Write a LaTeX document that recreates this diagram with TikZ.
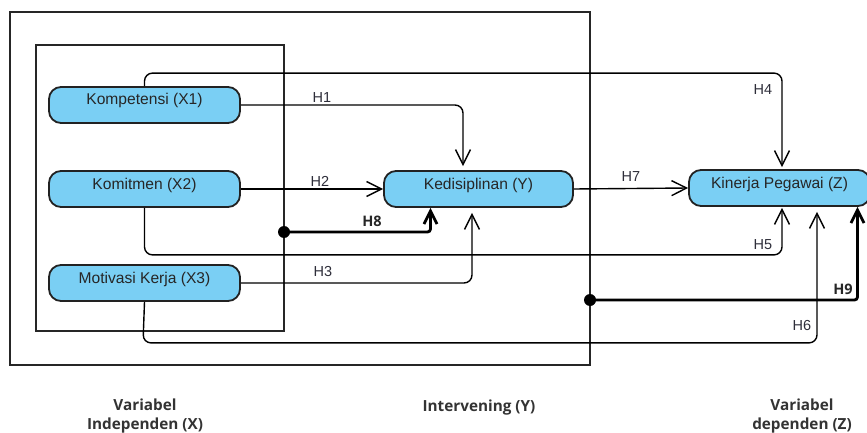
\documentclass[tikz,border=0pt]{standalone}
\usepackage{fontspec}
\setmainfont{Liberation Sans}
\newfontfamily\osb{Open Sans}
\usetikzlibrary{arrows.meta,calc}
\definecolor{nodeblue}{HTML}{7ACFF4}
\definecolor{edgegray}{HTML}{222222}
\definecolor{labgray}{HTML}{2E2E3A}
\begin{document}
\begin{tikzpicture}[x=1pt,y=-1pt,
  var/.style={draw=edgegray,line width=1.8pt,fill=nodeblue,rounded corners=12pt,
    minimum width=191pt,minimum height=36pt,inner sep=0pt,
    text height=11pt,text depth=11pt,font=\fontsize{15.6}{18}\selectfont,text=black!85},
  frame/.style={draw=black!85,line width=1.5pt},
  conn/.style={draw=black,line width=1.4pt,rounded corners=8pt,
    -{Straight Barb[length=15pt,width=15pt,line width=1.4pt]}},
  thick conn/.style={draw=black,line width=2.8pt,rounded corners=3pt,
    -{Straight Barb[length=13pt,width=13pt,line width=2.8pt]}},
  hlab/.style={font=\fontsize{14.5}{16}\selectfont,text=labgray,inner sep=0pt},
  hblab/.style={font=\osb\bfseries\fontsize{14.5}{16}\selectfont,text=black!85,inner sep=0pt},
  foot/.style={font=\osb\bfseries\fontsize{15.3}{19}\selectfont,text=black!80,align=center,inner sep=0pt},
  dotmark/.style={circle,fill=black,inner sep=0pt,minimum size=12pt}
]
\useasboundingbox (0,0) rectangle (867,433);

% frames
\draw[frame] (10,12) rectangle (590,365);
\draw[frame] (36,45) rectangle (284,331);

% nodes
\node[var] (X1) at (144.5,105) {Kompetensi (X1)};
\node[var] (X2) at (144.5,189) {Komitmen (X2)};
\node[var] (X3) at (144.5,283) {Motivasi Kerja (X3)};
\node[var,minimum width=189pt] (Y) at (478.5,189) {Kedisiplinan (Y)};
\node[var,minimum width=181pt] (Z) at (779.5,188) {Kinerja Pegawai (Z)};

% junction dots
\node[dotmark] (d8) at (284,232) {};
\node[dotmark] (d9) at (590,300) {};

% connectors
\draw[conn,shorten >=4pt] (X1.east) -| ([xshift=-15.5pt]Y.north);
\draw[conn] (X2.east) -- (Y.west);
\draw[conn,shorten >=5pt] (X3.east) -| ([xshift=-6.5pt]Y.south);
\draw[conn,shorten >=2pt] (X1.north) -- ++(0,-13) -| ([xshift=2.5pt]Z.north);
\draw[conn,shorten >=1pt] (X2.south) -- ++(0,47) -| ([xshift=2.5pt]Z.south);
\draw[conn,shorten >=5pt] (X3.south) -- ++(-1.5,41) -| ([xshift=37.5pt]Z.south);
\draw[conn] (Y.east) -- (Z.west);
\draw[thick conn] (d8.center) -| ([xshift=-48pt]Y.south);
\draw[thick conn] (d9.center) -| ([xshift=78pt]Z.south);

% labels
\node[hlab] (h1) at (322,98) {H1};
\node[hlab] (h2) at (320,181) {H2};
\node[hlab] (h3) at (323,272) {H3};
\node[hlab] (h4) at (763,90) {H4};
\node[hlab] (h5) at (763,245) {H5};
\node[hlab] (h6) at (802,326) {H6};
\node[hlab] (h7) at (631,177) {H7};
\node[hblab] (h8) at (372,221) {H8};
\node[hblab] (h9) at (843,289) {H9};

% footer
\node[foot] (fx) at (145,416.5) {Variabel\\Independen (X)};
\node[foot] (fy) at (479,408) {Intervening (Y)};
\node[foot] (fz) at (802,416.5) {Variabel\\dependen (Z)};
\end{tikzpicture}
\end{document}
